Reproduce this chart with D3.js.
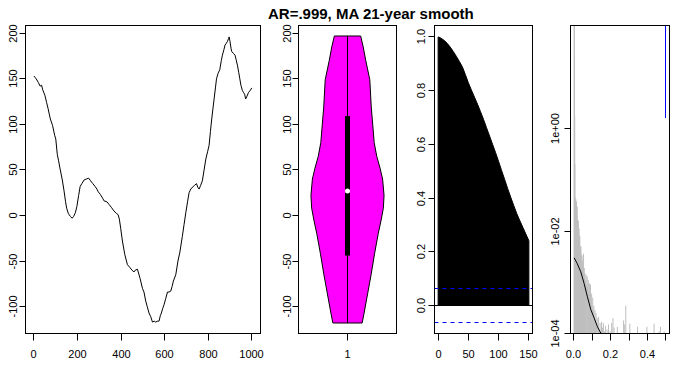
<!DOCTYPE html>
<html>
<head>
<meta charset="utf-8">
<script src="https://cdn.jsdelivr.net/npm/d3@7"></script>
<style>
  body { margin: 0; background: #fff; }
  svg { display: block; font-family: "Liberation Sans", Arial, sans-serif; }
</style>
</head>
<body>
<svg width="681" height="371"></svg>
<script>
// Time series (year, smoothed value)
const seriesYears = [0,10,20,28,35,40,50,58,65,75,85,95,100,107,113,120,130,138,145,150,158,167,175,182,190,197,205,212,220,230,240,251,260,270,280,289,295,305,315,322,335,345,355,367,380,386,392,398,406,417,429,440,450,459,465,475,487,498,505,513,520,528,536,544,552,559,566,574,580,585,591,597,605,613,620,628,634,640,651,661,670,681,689,697,705,712,720,727,737,746,752,758,765,773,781,789,797,804,810,816,822,827,833,838,845,853,860,865,872,877,883,888,893,896,900,905,908,915,923,928,934,940,945,950,957,962,967,972,978,985,992,1000];
const seriesValues = [153,150,146,142,143,138,132,124,117,106,99,88,84,67,60,51,39,27,15,8,2,-1,-3,-1,3,10,22,32,35,39,40,41,38,35,32,29,26,23,19,16,15,12,9,5,2,1,-4,-14,-28,-43,-54,-57,-60,-62,-60,-59,-69,-80,-84,-94,-100,-107,-111,-117,-116,-117,-116,-116,-110,-107,-102,-98,-91,-84,-84,-83,-78,-72,-65,-50,-40,-23,-10,3,15,25,29,31,33,35,31,29,33,38,50,62,70,77,92,106,118,128,140,150,156,160,170,176,182,187,189,191,194,196,191,183,180,178,176,171,165,157,150,143,137,135,133,128,131,135,137,140];
const seriesTicksX = [0, 200, 400, 600, 800, 1000];
const seriesTicksY = [-100, -50, 0, 50, 100, 150, 200];

// Violin: level and relative density, box quartiles, data range
const violinLevels  = [197, 185, 170, 149, 119, 95, 80, 65, 52, 40, 22, 8, -5, -20, -42, -64, -86, -108, -118];
const violinDensity = [0.36, 0.43, 0.50, 0.61, 0.65, 0.70, 0.73, 0.80, 0.89, 0.96, 1.00, 0.98, 0.92, 0.84, 0.74, 0.65, 0.55, 0.45, 0.40];
const boxQuartiles = [-44, 27, 109];
const violinRange = [-118, 197];

// Autocorrelation
const acfLags = [0,5,10,15,20,25,30,35,40,45,50,55,60,65,70,75,80,85,90,95,100,105,110,115,120,125,130,135,140,145,150];
const acfValues = [1.000,0.995,0.987,0.976,0.962,0.946,0.928,0.909,0.889,0.860,0.829,0.802,0.776,0.750,0.722,0.693,0.662,0.631,0.600,0.569,0.536,0.502,0.469,0.435,0.403,0.372,0.342,0.316,0.291,0.266,0.241];
const acfLimit = 0.062;
const acfTicksX = [0, 50, 100, 150];
const acfTicksY = [0, 0.2, 0.4, 0.6, 0.8, 1.0];

// Periodogram (gray spikes) and smoothed spectrum (black)
const specFreq = [0.001,0.002,0.003,0.004,0.005,0.006,0.008,0.010,0.012,0.014,0.016,0.018,0.020,0.022,0.024,0.026,0.028,0.030,0.032,0.034,0.036,0.038,0.040,0.042,0.044,0.046,0.048,0.050,0.052,0.054,0.056,0.058,0.060,0.063,0.066,0.069,0.072,0.075,0.078,0.081,0.084,0.087,0.090,0.093,0.096,0.099,0.102,0.105,0.108,0.111,0.114,0.117,0.120,0.123,0.126,0.130,0.134,0.138,0.142,0.146,0.150,0.155,0.160,0.166,0.172,0.180,0.188,0.196,0.205,0.212,0.218,0.236,0.270,0.276,0.282,0.287,0.304,0.346,0.397,0.436,0.463,0.471,0.491];
const specPower = [400,150,25,1.7,0.2,0.045,0.04,0.042,0.03,0.038,0.02,0.03,0.016,0.012,0.016,0.009,0.011,0.0066,0.008,0.005,0.0042,0.005,0.0035,0.0027,0.0033,0.0022,0.0027,0.0017,0.0036,0.0015,0.0019,0.0012,0.0015,0.0011,0.0014,0.0009,0.0013,0.0008,0.0011,0.0006,0.00095,0.0005,0.0009,0.0004,0.0006,0.0003,0.0005,0.00028,0.00035,0.00021,0.00029,0.00018,0.00025,0.00015,0.0002,0.00013,0.00021,0.00012,0.00016,0.00011,0.00017,0.00013,0.00016,0.00011,0.00014,0.00012,0.00015,0.00011,0.00016,0.0002,0.00013,0.000135,0.00018,0.00015,0.00035,0.0001,0.000155,0.000135,0.000135,0.000155,0.00011,0.000135,0.00011];
const smoothFreq = [0.001, 0.018, 0.037, 0.055, 0.073, 0.092, 0.110, 0.128, 0.147, 0.165];
const smoothPower = [0.0030, 0.0023, 0.0016, 0.00095, 0.00052, 0.00029, 0.0002, 0.000135, 0.0001, 0.00007];
const ciFreq = 0.5;
const ciBar = [1.6, 400];
const specTicksX = [0, 0.1, 0.2, 0.3, 0.4, 0.5];
const specLabelsX = ["0.0", "", "0.2", "", "0.4", ""];
const specTicksY = [1e-4, 1e-2, 1];
const specLabelsY = ["1e-04", "1e-02", "1e+00"];

const svg = d3.select("svg");
const fontSize = 11;

// panel rectangles (plot regions), gap = distance of rotated y labels from the frame
const panels = {
    series: {x0: 25.5, x1: 260.5, y0: 25.5, y1: 333.5, gap: 9},
    violin: {x0: 298.5, x1: 396.5, y0: 25.5, y1: 333.5, gap: 8},
    acf:    {x0: 434.5, x1: 532.5, y0: 25.5, y1: 333.5, gap: 10},
    spec:   {x0: 570.5, x1: 669.5, y0: 25.5, y1: 333.5, gap: 12}
};

// R-style range with 4% padding
function padded(lo, hi) {
    const d = (hi - lo) * 0.04;
    return [lo - d, hi + d];
}

function snap(v) {
    return Math.round(v - 0.5) + 0.5;
}

function drawFrame(p) {
    svg.append("rect")
       .attr("x", p.x0).attr("y", p.y0)
       .attr("width", p.x1 - p.x0).attr("height", p.y1 - p.y0)
       .attr("fill", "none").attr("stroke", "#000").attr("stroke-width", 1);
}

function clipFor(name, p) {
    svg.append("clipPath").attr("id", "clip-" + name)
       .append("rect")
       .attr("x", p.x0).attr("y", p.y0)
       .attr("width", p.x1 - p.x0).attr("height", p.y1 - p.y0);
    return "url(#clip-" + name + ")";
}

function axisBottom(scale, ticks, labels, p) {
    const axis = d3.axisBottom(scale).tickValues(ticks).tickSize(7).tickPadding(10)
        .tickFormat((d, i) => labels[i]).offset(0);
    const g = svg.append("g")
        .attr("transform", `translate(0,${p.y1})`)
        .call(axis);
    g.select(".domain").remove();
    g.attr("font-size", fontSize).attr("font-family", null);
    g.selectAll(".tick").attr("transform", d => `translate(${snap(scale(d))},0)`);
    g.selectAll(".tick text").attr("fill", "#000");
}

function axisLeft(scale, ticks, labels, p) {
    const axis = d3.axisLeft(scale).tickValues(ticks).tickSize(6)
        .tickFormat((d, i) => labels[i]).offset(0);
    const g = svg.append("g")
        .attr("transform", `translate(${p.x0},0)`)
        .call(axis);
    g.select(".domain").remove();
    g.attr("font-size", fontSize).attr("font-family", null);
    g.selectAll(".tick").attr("transform", d => `translate(0,${snap(scale(d))})`);
    g.selectAll(".tick text")
        .attr("x", 0).attr("y", -p.gap).attr("dy", null)
        .attr("text-anchor", "middle")
        .attr("transform", "rotate(-90)")
        .attr("fill", "#000");
}

// ---- panel 1: time series ----
function drawSeries() {
    const p = panels.series;
    const scX = d3.scaleLinear().domain(padded(1, 1000)).range([p.x0, p.x1]);
    const scY = d3.scaleLinear().domain(padded(d3.min(seriesValues), d3.max(seriesValues))).range([p.y1, p.y0]);
    const pts = seriesYears.map((y, i) => [y, seriesValues[i]]);
    svg.append("path")
       .datum(pts)
       .attr("fill", "none").attr("stroke", "#000").attr("stroke-width", 1)
       .attr("d", d3.line().x(d => scX(d[0])).y(d => scY(d[1])));
    drawFrame(p);
    axisBottom(scX, seriesTicksX, seriesTicksX.map(String), p);
    axisLeft(scY, seriesTicksY, seriesTicksY.map(String), p);
    return scY;
}

// ---- panel 2: violin ----
function drawViolin(scYseries) {
    const p = panels.violin;
    const scX = d3.scaleLinear().domain([0.48, 1.52]).range([p.x0, p.x1]);
    const scY = d3.scaleLinear().domain(scYseries.domain()).range([p.y1, p.y0]);
    const scW = d3.scaleLinear().domain([0, 1]).range([0, 0.388]);
    const pts = violinLevels.map((v, i) => [v, violinDensity[i]]);
    const cx = snap(scX(1));

    svg.append("path")
       .datum(pts)
       .attr("fill", "#ff00ff").attr("stroke", "#000").attr("stroke-width", 1)
       .attr("d", d3.area()
           .y(d => scY(d[0]))
           .x0(d => scX(1 - scW(d[1])))
           .x1(d => scX(1 + scW(d[1]))));

    // whisker line
    svg.append("line")
       .attr("x1", cx).attr("x2", cx)
       .attr("y1", scY(violinRange[0])).attr("y2", scY(violinRange[1]))
       .attr("stroke", "#000").attr("stroke-width", 1);
    // box
    svg.append("rect")
       .attr("x", cx - 2.5).attr("width", 5)
       .attr("y", scY(boxQuartiles[2]))
       .attr("height", scY(boxQuartiles[0]) - scY(boxQuartiles[2]))
       .attr("fill", "#000");
    // median
    svg.append("circle")
       .attr("cx", cx).attr("cy", scY(boxQuartiles[1])).attr("r", 2.5)
       .attr("fill", "#fff");

    drawFrame(p);
    axisBottom(scX, [1], ["1"], p);
    axisLeft(scY, seriesTicksY, seriesTicksY.map(String), p);
}

// ---- panel 3: autocorrelation ----
function drawAcf() {
    const p = panels.acf;
    const clip = clipFor("acf", p);
    const scX = d3.scaleLinear().domain(padded(0, 150)).range([p.x0, p.x1]);
    const scY = d3.scaleLinear().domain(padded(-acfLimit, 1)).range([p.y1, p.y0]);
    const pts = acfLags.map((l, i) => [l, acfValues[i]]);
    const g = svg.append("g").attr("clip-path", clip);

    g.append("path")
     .datum(pts)
     .attr("fill", "#000").attr("stroke", "#000").attr("stroke-width", 1)
     .attr("d", d3.area().x(d => scX(d[0])).y0(scY(0)).y1(d => scY(d[1])));

    g.append("line")
     .attr("x1", p.x0).attr("x2", p.x1)
     .attr("y1", snap(scY(0))).attr("y2", snap(scY(0)))
     .attr("stroke", "#000");

    [acfLimit, -acfLimit].forEach(v => {
        g.append("line")
         .attr("x1", p.x0).attr("x2", p.x1)
         .attr("y1", snap(scY(v))).attr("y2", snap(scY(v)))
         .attr("stroke", "#0000ff").attr("stroke-dasharray", "4,4");
    });

    drawFrame(p);
    axisBottom(scX, acfTicksX, acfTicksX.map(String), p);
    axisLeft(scY, acfTicksY, acfTicksY.map(d => d.toFixed(1)), p);
}

// ---- panel 4: spectrum ----
function drawSpec() {
    const p = panels.spec;
    const clip = clipFor("spec", p);
    const scX = d3.scaleLinear().domain(padded(0.001, 0.5)).range([p.x0, p.x1]);
    const scY = d3.scaleLog().domain([1e-4, Math.pow(10, 2.01)]).range([p.y1, p.y0]);
    const g = svg.append("g").attr("clip-path", clip);

    g.selectAll(".spike")
     .data(specFreq.map((f, i) => [f, specPower[i]]))
     .enter()
     .append("line")
     .attr("x1", d => scX(d[0])).attr("x2", d => scX(d[0]))
     .attr("y1", d => scY(d[1])).attr("y2", p.y1)
     .attr("stroke", "#bebebe").attr("stroke-width", 1);

    g.append("path")
     .datum(smoothFreq.map((f, i) => [f, smoothPower[i]]))
     .attr("fill", "none").attr("stroke", "#000").attr("stroke-width", 1)
     .attr("d", d3.line().x(d => scX(d[0])).y(d => scY(d[1])));

    g.append("line")
     .attr("x1", snap(scX(ciFreq))).attr("x2", snap(scX(ciFreq)))
     .attr("y1", scY(ciBar[0])).attr("y2", scY(ciBar[1]))
     .attr("stroke", "#0000ff").attr("stroke-width", 1);

    drawFrame(p);
    axisBottom(scX, specTicksX, specLabelsX, p);
    axisLeft(scY, specTicksY, specLabelsY, p);
}

const scYseries = drawSeries();
drawViolin(scYseries);
drawAcf();
drawSpec();

// title
svg.append("text")
   .attr("x", 268).attr("y", 19)
   .attr("font-size", 15)
   .attr("font-weight", "bold")
   .attr("fill", "#000")
   .text("AR=.999, MA 21-year smooth");
</script>
</body>
</html>
